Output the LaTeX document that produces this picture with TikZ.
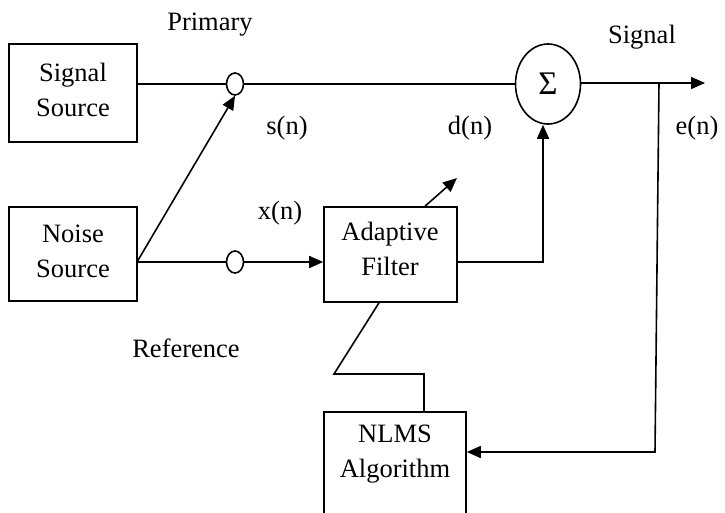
\documentclass[tikz,border=0pt]{standalone}
\usepackage{fontspec}
\setmainfont{Liberation Serif}
\usetikzlibrary{arrows.meta,shapes.geometric}
\begin{document}
\begin{tikzpicture}[x=1pt,y=-1pt,
  line width=1.6pt,
  every node/.style={font=\fontsize{26.5}{35}\selectfont, inner sep=0pt},
  box/.style={draw, rectangle},
  txt/.style={align=center},
  tap/.style={draw, ellipse, minimum width=17pt, minimum height=22pt},
  arr/.style={-{Triangle[length=14pt,width=12pt]}}]
\useasboundingbox (0,0) rectangle (725,513);
\clip (0,0) rectangle (725,513);
% blocks
\node[box, minimum width=128pt, minimum height=98pt] (ss) at (73,93) {};
\node[txt] (sst) at (73,90) {Signal\\Source};
\node[box, minimum width=128pt, minimum height=94pt] (ns) at (73,254) {};
\node[txt] (nst) at (73,251) {Noise\\Source};
\node[box, minimum width=133pt, minimum height=95pt] (af) at (390.5,254.5) {};
\node[txt] (aft) at (390,249) {Adaptive\\Filter};
\node[box, minimum width=142pt, minimum height=140pt, anchor=north] (nlms) at (395,411) {};
\node[txt] (nlmst) at (395,454) {NLMS\\Algorithm};
\node[tap] (e1) at (235,84) {};
\node[tap] (e2) at (235,262) {};
\node[draw, ellipse, minimum width=65pt, minimum height=80pt, font=\fontsize{33}{35}\selectfont] (sum) at (548,84) {Σ};
% labels
\node (lp) at (210,25) {Primary};
\node (ls) at (287,128) {s(n)};
\node (lx) at (280,213) {x(n)};
\node (ld) at (470,128) {d(n)};
\node (lsig) at (642,37) {Signal};
\node (le) at (697,128) {e(n)};
\node (lr) at (186,348) {Reference};
% coordinates
\coordinate (nsc) at (137,262);
\coordinate (out) at (705,83);
\coordinate (tapf) at (659,83);
\coordinate (fb) at (655,452);
\coordinate (dn) at (543,262);
\coordinate (adtip) at (457,178);
% connectors
\draw (ss.east |- e1.west) -- (e1.west);
\draw (e1.east) -- (sum.west |- e1.east);
\draw[arr] (nsc) -- (e1.south);
\draw (nsc) -- (e2.west);
\draw[arr] (e2.east) -- (af.west |- e2.east);
\draw[arr] (af.north -| 425,0) -- (adtip);
\draw[arr] (af.east |- dn) -- (dn) -- (dn |- sum.south);
\draw[arr] (sum.east |- out) -- (out);
\draw[arr] (tapf) -- (fb) -- (nlms.east |- fb);
\draw (af.south -| 379,0) -- (334,374) -- (424,374) -- (nlms.north -| 424,0);
\end{tikzpicture}
\end{document}
